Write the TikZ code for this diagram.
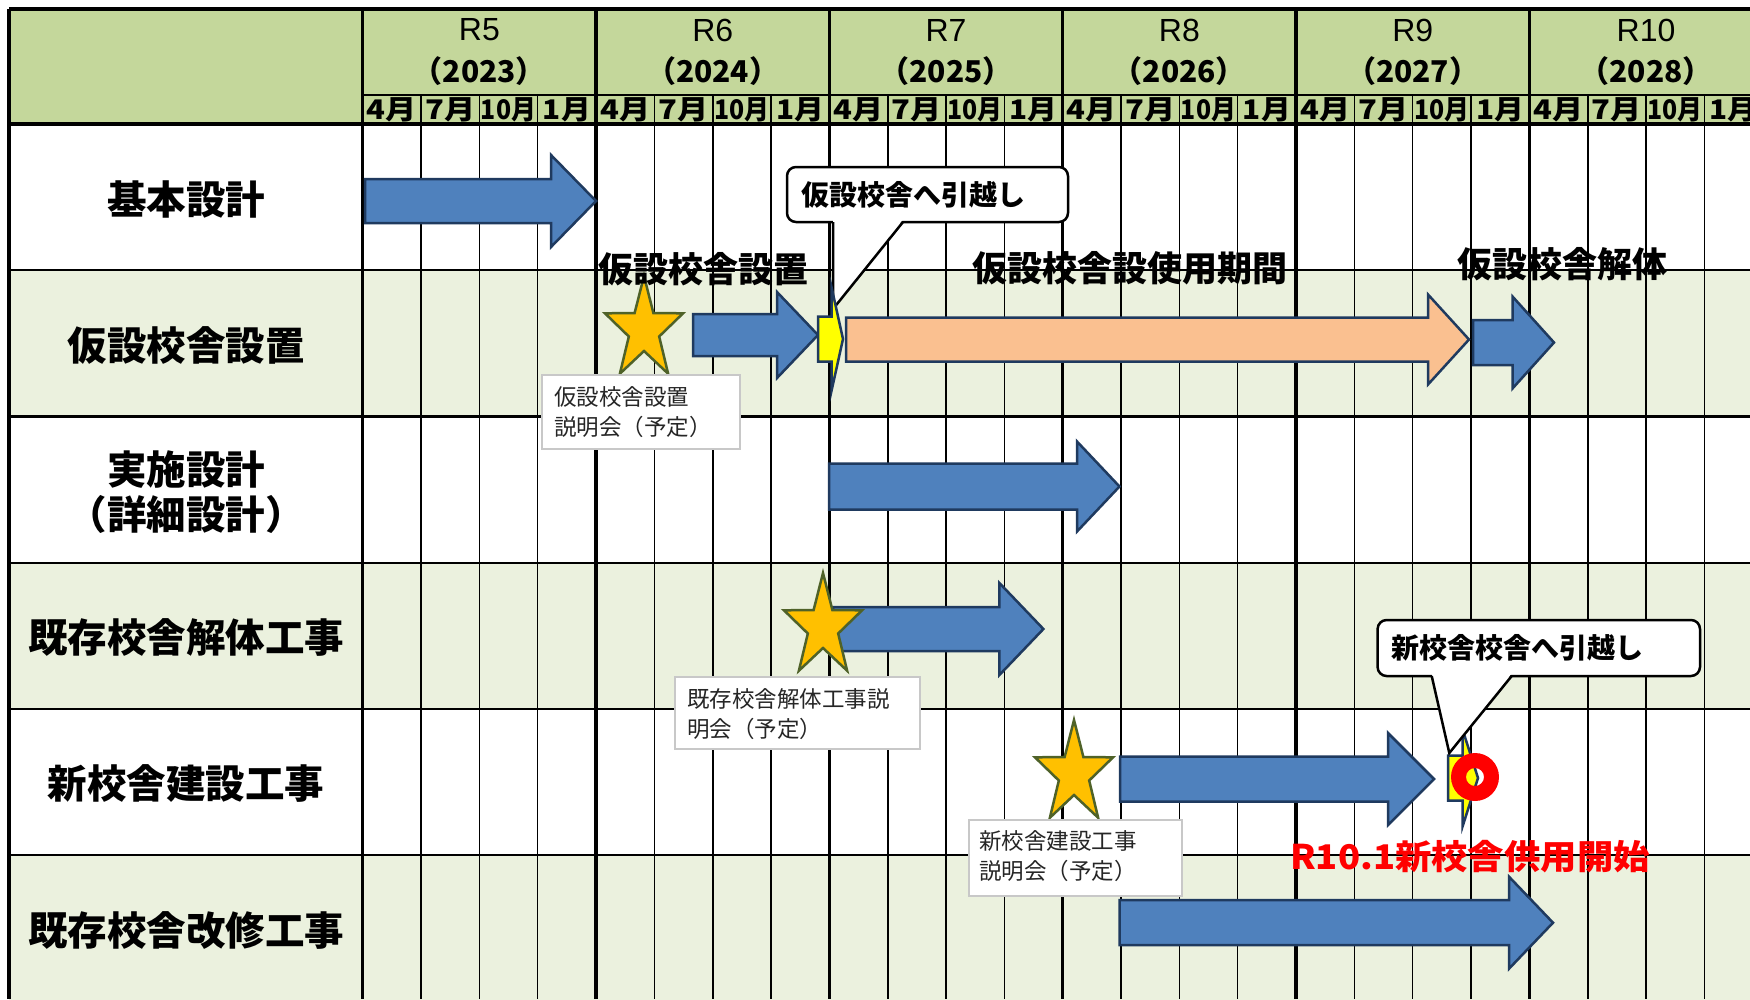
\documentclass[tikz,border=0pt]{standalone}
\usepackage{fontspec}
\setmainfont{Liberation Sans}
\newfontfamily\jp{Noto Sans CJK JP}
\definecolor{hdr}{HTML}{C4D79B}
\definecolor{rowg}{HTML}{EBF1DE}
\definecolor{ablue}{HTML}{4F81BD}
\definecolor{aedge}{HTML}{1F3A5F}
\definecolor{peach}{HTML}{FAC090}
\definecolor{yel}{HTML}{FFFF00}
\definecolor{starfill}{HTML}{FFC000}
\definecolor{staredge}{HTML}{4F6228}
\definecolor{infoedge}{HTML}{C8C8C8}
\definecolor{redtxt}{HTML}{FF0000}
\newcommand\garrow[7]{% style, x1, tip, xh, yc, hs, hh
  \draw[#1] (#2,{#5-#6}) -- (#4,{#5-#6}) -- (#4,{#5-#7}) -- (#3,#5) -- (#4,{#5+#7}) -- (#4,{#5+#6}) -- (#2,{#5+#6}) -- cycle;}
\newcommand\gstar[2]{%
  \draw[starsty, shift={(#1,#2)}, xscale=0.76] (270:54) -- (306:21) -- (342:54) -- (18:21) -- (54:54) -- (90:21) -- (126:54) -- (162:21) -- (198:54) -- (234:21) -- cycle;}
\begin{document}
\begin{tikzpicture}[x=1pt,y=-1pt,
  thickl/.style={line width=3.5pt, black},
  thinl/.style={line width=1.6pt, black},
  rowl/.style={line width=2.2pt, black},
  barrow/.style={fill=ablue, draw=aedge, line width=2.5pt, line join=miter},
  parrow/.style={fill=peach, draw=aedge, line width=2.5pt, line join=miter},
  yarrow/.style={fill=yel, draw=aedge, line width=2.5pt, line join=miter},
  starsty/.style={fill=starfill, draw=staredge, line width=2.5pt, line join=miter},
  callbox/.style={fill=white, draw=black, line width=2.5pt, rounded corners=9pt},
  calltext/.style={font=\jp\bfseries\fontsize{28}{30}\selectfont, anchor=west, inner sep=0pt},
  infobox/.style={fill=white, draw=infoedge, line width=1.2pt},
  infotext/.style={font=\jp\fontsize{22.5}{26}\selectfont, text=black!85, anchor=west, inner sep=0pt},
  rowlab/.style={font=\jp\bfseries\fontsize{39.5}{42}\selectfont, align=center, inner sep=0pt},
  overlab/.style={font=\jp\bfseries\fontsize{35}{38}\selectfont, inner sep=0pt},
  yearlab/.style={font=\fontsize{32}{34}\selectfont, inner sep=0pt},
  yearnum/.style={font=\jp\bfseries\fontsize{30}{32}\selectfont, inner sep=0pt},
  monlab/.style={font=\jp\bfseries\fontsize{27}{30}\selectfont, inner sep=0pt}
]
\useasboundingbox (0,0) rectangle (1750,999);
\clip (0,0) rectangle (1750,999);
\fill[white] (0,0) rectangle (1750,999);
% fills
\fill[hdr] (9,9) rectangle (1750,124);
\foreach \r in {1,3,5} \fill[rowg] (9,{124+\r*146.2}) rectangle (1750,{124+(\r+1)*146.2});
% grid
\foreach \y in {0,...,5} \foreach \q in {1,2,3}
  \draw[thinl] ({362.7+\y*233.33+\q*58.33},95) -- ({362.7+\y*233.33+\q*58.33},999);
\foreach \r in {1,...,5} \draw[rowl] (9,{124+\r*146.2}) -- (1750,{124+\r*146.2});
\draw[thinl] (362.7,95) -- (1750,95);
\draw[thickl] (9,9) -- (1750,9);
\draw[thickl] (9,124) -- (1750,124);
\draw[thickl] (9,9) -- (9,999);
\foreach \y in {0,...,5} \draw[thickl] ({362.7+\y*233.33},9) -- ({362.7+\y*233.33},999);
% header
\foreach \y/\r/\n in {0/R5/2023,1/R6/2024,2/R7/2025,3/R8/2026,4/R9/2027,5/R10/2028}{
  \node[yearlab] (yr\y) at ({362.7+(\y+0.5)*233.33},30) {\r};
  \node[yearnum] (yn\y) at ({362.7+(\y+0.5)*233.33},71) {（\n）};
  \node[monlab] (m\y a) at ({362.7+\y*233.33+0.5*58.33},110) {\scalebox{1.15}[1]{4月}};
  \node[monlab] (m\y b) at ({362.7+\y*233.33+1.5*58.33},110) {\scalebox{1.15}[1]{7月}};
  \node[monlab] (m\y c) at ({362.7+\y*233.33+2.5*58.33},110) {\scalebox{0.92}[1]{10月}};
  \node[monlab] (m\y d) at ({362.7+\y*233.33+3.5*58.33},110) {\scalebox{1.1}[1]{1月}};
}
% row labels
\node[rowlab] (l1) at (186,199) {基本設計};
\node[rowlab] (l2) at (186,345) {仮設校舎設置};
\node[rowlab] (l3) at (186,492) {実施設計\\[3pt]（詳細設計）};
\node[rowlab] (l4) at (186,637) {既存校舎解体工事};
\node[rowlab] (l5) at (186,783) {新校舎建設工事};
\node[rowlab] (l6) at (186,930) {既存校舎改修工事};
% arrows
\garrow{barrow}{365}{596}{551}{201}{22}{46}
\garrow{barrow}{693}{818}{777}{335}{21}{43}
\garrow{parrow}{846}{1469}{1428}{339.5}{22}{45}
\garrow{barrow}{1473}{1554}{1512.5}{342.5}{22.5}{46}
\garrow{barrow}{829}{1119.5}{1077}{486.5}{23}{45}
\garrow{barrow}{833}{1043.4}{999.4}{629}{22}{46}
\garrow{barrow}{1120}{1434}{1388}{779}{22.5}{46}
\garrow{barrow}{1119.5}{1553}{1509}{922.7}{22.5}{46}
% callout A
\draw[callbox] (787,167) rectangle (1068,222);
\fill[white] (833,219.5) -- (833,309) -- (903,219.5) -- cycle;
\draw[black, line width=2.5pt] (833,222) -- (833,309) -- (903,222);
\node[calltext] (cA) at (801,195) {仮設校舎へ引越し};
% yellow small arrows
\garrow{yarrow}{818}{843}{831.7}{339}{22.5}{51}
\garrow{yarrow}{1448}{1478}{1462.7}{778}{22.5}{48}
% callout B
\draw[callbox] (1377.6,620) rectangle (1700,676);
\fill[white] (1431.7,673.5) -- (1449.3,753) -- (1511.7,673.5) -- cycle;
\draw[black, line width=2.5pt] (1431.7,676) -- (1449.3,753) -- (1511.7,676);
\node[calltext] (cB) at (1391,648) {新校舎校舎へ引越し};
% red ring
\fill[redtxt, even odd rule] (1475,777) circle[radius=24pt] circle[radius=9pt];
% stars
\gstar{644}{330}
\gstar{823}{627}
\gstar{1074}{774}
% info boxes
\draw[infobox] (542,375) rectangle (740,449);
\node[infotext] (i1a) at (554,397) {仮設校舎設置};
\node[infotext] (i1b) at (554,427) {説明会（予定）};
\draw[infobox] (675,677) rectangle (920,749);
\node[infotext] (i2a) at (687,699) {既存校舎解体工事説};
\node[infotext] (i2b) at (687,729) {明会（予定）};
\draw[infobox] (969,820) rectangle (1182,896);
\node[infotext] (i3a) at (979,841) {新校舎建設工事};
\node[infotext] (i3b) at (979,871) {説明会（予定）};
% overlay labels
\node[overlab] (t1) at (703,269) {仮設校舎設置};
\node[overlab] (t2) at (1130,268) {仮設校舎設使用期間};
\node[overlab] (t3) at (1562,264) {仮設校舎解体};
\node[font=\jp\bfseries\fontsize{34}{36}\selectfont, text=redtxt, inner sep=0pt] (rt) at (1470,857) {\scalebox{1.07}[1]{R10.1新校舎供用開始}};
\end{tikzpicture}
\end{document}
